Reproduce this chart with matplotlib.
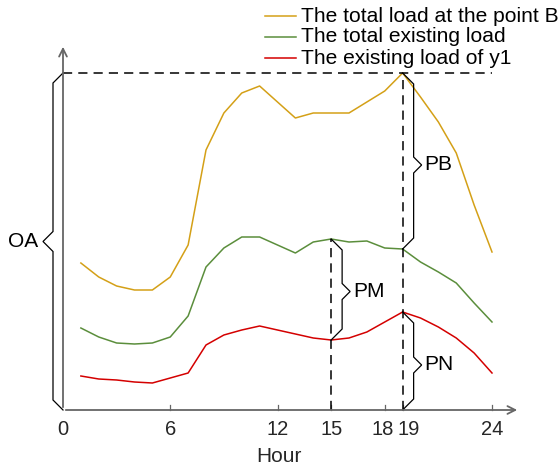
import matplotlib.pyplot as plt
import numpy as np

plt.rcParams['font.family'] = ['Liberation Sans', 'DejaVu Sans']

# hourly load values (arbitrary units)
hours = list(range(1, 25))
load_point_b = [147, 133, 124, 120, 120, 133, 165, 260, 297, 317, 324, 308, 292,
                297, 297, 297, 308, 319, 337, 313, 288, 257, 205, 158]
load_total = [82, 73, 67, 66, 67, 73, 94, 143, 162, 173, 173, 165, 157,
              168, 171, 168, 169, 162, 161, 148, 138, 127, 107, 88]
load_y1 = [34, 31, 30, 28, 27, 32, 37, 65, 75, 80, 84, 80, 76,
           72, 70, 72, 78, 88, 98, 92, 83, 72, 57, 37]
tick_hours = [0, 6, 12, 15, 18, 19, 24]

series_names = ['The total load at the point B', 'The total existing load', 'The existing load of y1']
series_colors = ['#D4A017', '#5B8E3C', '#D40000']

# one hour = PX_X pixels, one load unit = 1 pixel
PX_X = 17.875


def px(n):
    return n / PX_X


def draw_brace(ax, x, y0, y1, side, label, d=11, tip=8, drop=0):
    # curly brace between y0 (top) and y1 (bottom), side=+1 right / -1 left
    ym = (y0 + y1) / 2 - drop
    xs = [x, x + side * px(d), x + side * px(d), x + side * px(d + tip),
          x + side * px(d), x + side * px(d), x]
    ys = [y0, y0 - d, ym + tip, ym, ym - tip, y1 + d, y1]
    ax.plot(xs, ys, color='black', lw=0.9, solid_joinstyle='miter')
    if side > 0:
        ax.text(x + px(d + tip + 3), ym, label, ha='left', va='center', fontsize=15)
    else:
        ax.text(x - px(d + tip + 5), ym, label, ha='right', va='center', fontsize=15)


fig = plt.figure(figsize=(5.58, 4.71), dpi=100)
ax = fig.add_axes([0, 0, 1, 1])
ax.set_xlim(-63 / PX_X, (558 - 63) / PX_X)
ax.set_ylim(-61, 410)
ax.axis('off')

for vals, c in zip([load_point_b, load_total, load_y1], series_colors):
    ax.plot(hours, vals, color=c, lw=1.1)

# axes with open arrow heads
axis_col = '#666666'
ax.annotate('', xy=(px(520 - 63), 0), xytext=(0, 0),
            arrowprops=dict(arrowstyle='->', color=axis_col, lw=1.3, mutation_scale=14))
ax.annotate('', xy=(0, 366), xytext=(0, 0),
            arrowprops=dict(arrowstyle='->', color=axis_col, lw=1.3, mutation_scale=14))
for h in tick_hours[1:]:
    ax.plot([h, h], [0, 5], color=axis_col, lw=0.9)
for h in tick_hours:
    # 18 and 19 sit close together, nudge them apart
    shift = {18: -px(2), 19: px(6)}.get(h, 0)
    ax.text(h + shift, -19.5, str(h), ha='center', va='center', fontsize=14.5, color='#262626')
ax.text(12.1, -46.5, 'Hour', ha='center', va='center', fontsize=15, color='#262626')

# dashed guide lines
peak = load_point_b[hours.index(19)]
dash = dict(color='black', lw=1.1, dashes=(6, 4))
ax.plot([0, 24], [peak, peak], **dash)
ax.plot([19, 19], [0, peak], **dash)
ax.plot([15, 15], [0, load_total[hours.index(15)]], **dash)

draw_brace(ax, 0, peak, 0, -1, 'OA', d=10, tip=10)
draw_brace(ax, 19, peak, load_total[hours.index(19)], 1, 'PB', drop=4)
draw_brace(ax, 15, load_total[hours.index(15)], load_y1[hours.index(15)], 1, 'PM', drop=2)
draw_brace(ax, 19, load_y1[hours.index(19)], 0, 1, 'PN', drop=4)

# legend
for i, (name, c) in enumerate(zip(series_names, series_colors)):
    yy = 410 - (16 + 21 * i)
    ax.plot([px(265 - 63), px(296 - 63)], [yy, yy], color=c, lw=1.1)
    ax.text(px(301 - 63), yy, name, ha='left', va='center', fontsize=15.1)

fig.savefig('out.png', dpi=100)
